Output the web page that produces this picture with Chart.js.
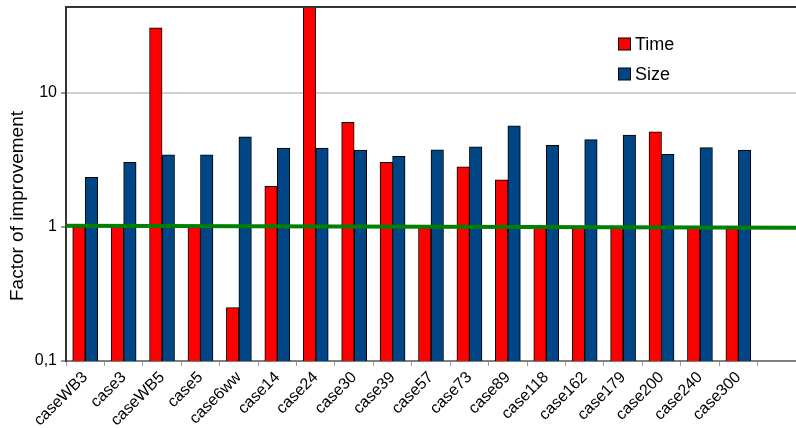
<!DOCTYPE html>
<html>
<head>
<meta charset="utf-8">
<script src="https://cdn.jsdelivr.net/npm/chart.js@4/dist/chart.umd.min.js"></script>
<style>
    html, body { margin: 0; padding: 0; background: #ffffff; }
    #wrap { width: 796px; height: 428px; }
</style>
</head>
<body>
<div id="wrap"><canvas id="improvementChart" width="796" height="428"></canvas></div>
<script>
// Cases (last slot is empty, the axis runs one category further)
const cases = ['caseWB3', 'case3', 'caseWB5', 'case5', 'case6ww', 'case14', 'case24', 'case30', 'case39',
    'case57', 'case73', 'case89', 'case118', 'case162', 'case179', 'case200', 'case240', 'case300', ''];

const timeFactor = [1, 1, 30.3, 1, 0.25, 2.0, 43.4, 6.0, 3.02, 1, 2.8, 2.24, 1, 1, 1, 5.1, 1, 1, null];
const sizeFactor = [2.34, 3.02, 3.43, 3.43, 4.67, 3.85, 3.85, 3.72, 3.35, 3.74, 3.95, 5.64, 4.05, 4.46, 4.83, 3.47, 3.89, 3.72, null];

// reference line (start / end of the axis)
const refLineX = [0, 19];
const refLineY = [1.02, 0.983];

const yTicks = [0.1, 1, 10];
const yMin = 0.1;
const yMax = 43.4;
const yTitle = 'Factor of improvement';

const FONT = "'Liberation Sans', Arial, sans-serif";

// Legend drawn inside the plot, top right
const insideLegend = {
    id: 'insideLegend',
    afterDraw(chart) {
        const ctx = chart.ctx;
        const items = chart.data.datasets.filter(d => d.type === 'bar');
        ctx.save();
        ctx.font = '18px ' + FONT;
        ctx.textBaseline = 'middle';
        items.forEach((d, i) => {
            const y = 44 + i * 30;
            ctx.fillStyle = d.backgroundColor;
            ctx.fillRect(618.5, y - 6, 12, 12);
            ctx.strokeStyle = '#000000';
            ctx.lineWidth = 1;
            ctx.strokeRect(618.5, y - 6, 12, 12);
            ctx.fillStyle = '#000000';
            ctx.fillText(d.label, 635, y + 1);
        });
        ctx.restore();
    }
};

// Frame line on top of the plot + y title (sits a bit below the plot centre)
const frameAndTitle = {
    id: 'frameAndTitle',
    afterDraw(chart) {
        const a = chart.chartArea;
        const ctx = chart.ctx;
        ctx.save();
        ctx.strokeStyle = '#333333';
        ctx.lineWidth = 2;
        ctx.beginPath();
        ctx.moveTo(a.left - 1, a.top);
        ctx.lineTo(a.right, a.top);
        ctx.stroke();

        ctx.translate(18, 206);
        ctx.rotate(-Math.PI / 2);
        ctx.font = '19px ' + FONT;
        ctx.fillStyle = '#000000';
        ctx.textAlign = 'center';
        ctx.textBaseline = 'middle';
        ctx.fillText(yTitle, 0, 0);
        ctx.restore();
    }
};

new Chart(document.getElementById('improvementChart'), {
    data: {
        labels: cases,
        datasets: [
            {
                type: 'line',
                label: 'ref',
                data: refLineX.map((x, i) => ({ x: x, y: refLineY[i] })),
                xAxisID: 'x2',
                borderColor: '#008000',
                borderWidth: 4,
                pointRadius: 0,
                fill: false,
                order: 0,
            },
            {
                type: 'bar',
                label: 'Time',
                data: timeFactor,
                backgroundColor: '#ff0000',
                borderColor: '#000000',
                borderWidth: 1,
                barThickness: 12.5,
                order: 1,
            },
            {
                type: 'bar',
                label: 'Size',
                data: sizeFactor,
                backgroundColor: '#004586',
                borderColor: '#000000',
                borderWidth: 1,
                barThickness: 12.5,
                order: 2,
            }
        ]
    },
    options: {
        responsive: false,
        animation: false,
        layout: { padding: { top: 7, right: 0, left: 0, bottom: 0 } },
        plugins: {
            legend: { display: false },
            tooltip: { enabled: false }
        },
        scales: {
            x: {
                type: 'category',
                offset: true,
                grid: {
                    offset: true,
                    drawOnChartArea: false,
                    drawTicks: true,
                    tickLength: 5,
                    tickColor: '#999999'
                },
                border: { color: '#808080', width: 2 },
                ticks: {
                    color: '#000000',
                    font: { family: FONT, size: 16 },
                    autoSkip: false,
                    minRotation: 45,
                    maxRotation: 45,
                    padding: 2
                },
                afterFit(scale) { scale.height = 67; }
            },
            x2: {
                type: 'linear',
                display: false,
                min: 0,
                max: 19
            },
            y: {
                type: 'logarithmic',
                min: yMin,
                max: yMax,
                afterBuildTicks(scale) {
                    scale.ticks = yTicks.map(v => ({ value: v }));
                },
                grid: {
                    color: '#d0d0d0',
                    lineWidth: 2,
                    tickLength: 5,
                    tickColor: '#999999'
                },
                border: { color: '#333333', width: 2 },
                ticks: {
                    color: '#000000',
                    font: { family: FONT, size: 16 },
                    padding: 4,
                    callback: function(value) {
                        return String(value).replace('.', ',');
                    }
                },
                afterFit(scale) {
                    scale.width = 66;
                    scale.paddingTop = 0;
                    scale.paddingBottom = 0;
                }
            }
        }
    },
    plugins: [insideLegend, frameAndTitle]
});
</script>
</body>
</html>
